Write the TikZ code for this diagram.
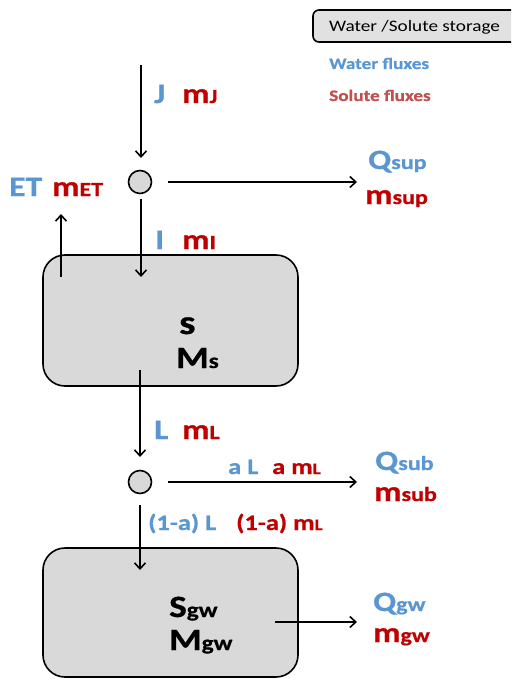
\documentclass[tikz,border=0pt]{standalone}
\usepackage{fontspec}
\setmainfont{Carlito}[FakeStretch=1.2,BoldFeatures={FakeBold=0.8}]
\usetikzlibrary{arrows.meta}
\definecolor{wblue}{HTML}{5A96D2}
\definecolor{sred}{HTML}{C00000}
\definecolor{lred}{HTML}{C0504D}
\definecolor{store}{HTML}{D9D9D9}
% flux symbol with a small trailing index on the same baseline
\newcommand\sym[2]{{\fontsize{28}{28}\selectfont #1}{\fontsize{20}{20}\selectfont #2}}
% storage symbol
\newcommand\stsym[2]{{\fontsize{31}{31}\selectfont #1}{\fontsize{21}{21}\selectfont #2}}
\newcommand\symsize{\fontsize{28}{28}\selectfont}
\newcommand\splitsize{\fontsize{22}{22}\selectfont}
\newcommand\splitsub[1]{{\fontsize{16}{16}\selectfont #1}}
\tikzset{
  flow/.style={line width=1.6pt,-{Straight Barb[length=6pt,width=11pt,line width=1.6pt]}},
  storebox/.style={draw,line width=1.6pt,fill=store,rounded corners=22pt},
  junction/.style={circle,draw,line width=1.6pt,fill=store,minimum size=23pt,inner sep=0pt},
  lab/.style={anchor=base west,inner sep=0pt,font=\bfseries},
  water/.style={lab,text=wblue},
  solute/.style={lab,text=sred},
}
\begin{document}
\begin{tikzpicture}[x=1pt,y=-1pt]
\useasboundingbox (0,0) rectangle (511,679);
\begin{scope}
\clip (0,0) rectangle (511,679);
% legend
\draw[line width=1.6pt,fill=store!80!white,rounded corners=6pt] (313,10) rectangle (530,42);
\node[anchor=base west,inner sep=0pt,font=\fontsize{16}{16}\selectfont] (leg) at (329,32) {Water /Solute storage};
\node[water,font=\bfseries\fontsize{16}{16}\selectfont] (legw) at (329,69) {Water fluxes};
\node[lab,text=lred,font=\bfseries\fontsize{16}{16}\selectfont] (legs) at (329,101) {Solute fluxes};
\end{scope}

% storages
\node[storebox,minimum width=255pt,minimum height=131pt] (soil) at (170.5,320.5) {};
\node[storebox,minimum width=255pt,minimum height=129pt] (gw) at (170.5,612.5) {};
\node[lab] (s) at (179,334) {\fontsize{34}{34}\selectfont s};
\node[lab] (Ms) at (176,368) {\stsym{M}{s}};
\node[lab] (Sgw) at (169,617) {\stsym{S}{gw}};
\node[lab] (Mgw) at (169,650) {\stsym{M}{gw}};

% junctions
\node[junction] (c1) at (140,182) {};
\node[junction] (c2) at (140,482) {};

% connector end points
\coordinate (jtop) at (141,65);
\coordinate (jend) at (141,158);
\coordinate (iend) at (141,277);
\coordinate (etstart) at (61,277);
\coordinate (etend) at (61,214);
\coordinate (lstart) at (140,370);
\coordinate (lend) at (140,457);
\coordinate (gwin) at (140,570);
\coordinate (supend) at (357,182);
\coordinate (subend) at (357,482);
\coordinate (gwstart) at (275,622);
\coordinate (gwend) at (357,622);

% fluxes
\draw[flow] (jtop) -- (jend);
\draw[flow] ([xshift=1pt,yshift=-5pt]c1.south) -- (iend);
\draw[flow] ([xshift=16pt]c1.east) -- (supend);
\draw[flow] (etstart) -- (etend);
\draw[flow] (lstart) -- (lend);
\draw[flow] ([xshift=16pt]c2.east) -- (subend);
\draw[flow] ([yshift=-11pt]c2.south) -- (gwin);
\draw[flow] (gwstart) -- (gwend);

% flux labels
\node[water] (J) at (154,103) {\symsize J};
\node[solute] (mJ) at (182,103) {\sym{m}{J}};
\node[water] (ET) at (9,196) {\symsize ET};
\node[solute] (mET) at (52,196) {\sym{m}{ET}};
\node[water] (I) at (155,249) {\symsize I};
\node[solute] (mI) at (182,249) {\sym{m}{I}};
\node[water] (Qsup) at (368,169) {\sym{Q}{sup}};
\node[solute] (msup) at (365,204) {\sym{m}{sup}};
\node[water] (L) at (154,439) {\symsize L};
\node[solute] (mL) at (182,439) {\sym{m}{L}};
\node[water,font=\bfseries\splitsize] (aL) at (228,474) {a L};
\node[solute,font=\bfseries\splitsize] (amL) at (272,474) {a m\splitsub{L}};
\node[water,font=\bfseries\splitsize] (bL) at (148,530) {(1-a) L};
\node[solute,font=\bfseries\splitsize] (bmL) at (236,530) {(1-a) m\splitsub{L}};
\node[water] (Qsub) at (375,470) {\sym{Q}{sub}};
\node[solute] (msub) at (374,501) {\sym{m}{sub}};
\node[water] (Qgw) at (373,611) {\sym{Q}{gw}};
\node[solute] (mgw) at (373,642) {\sym{m}{gw}};
\end{tikzpicture}
\end{document}
